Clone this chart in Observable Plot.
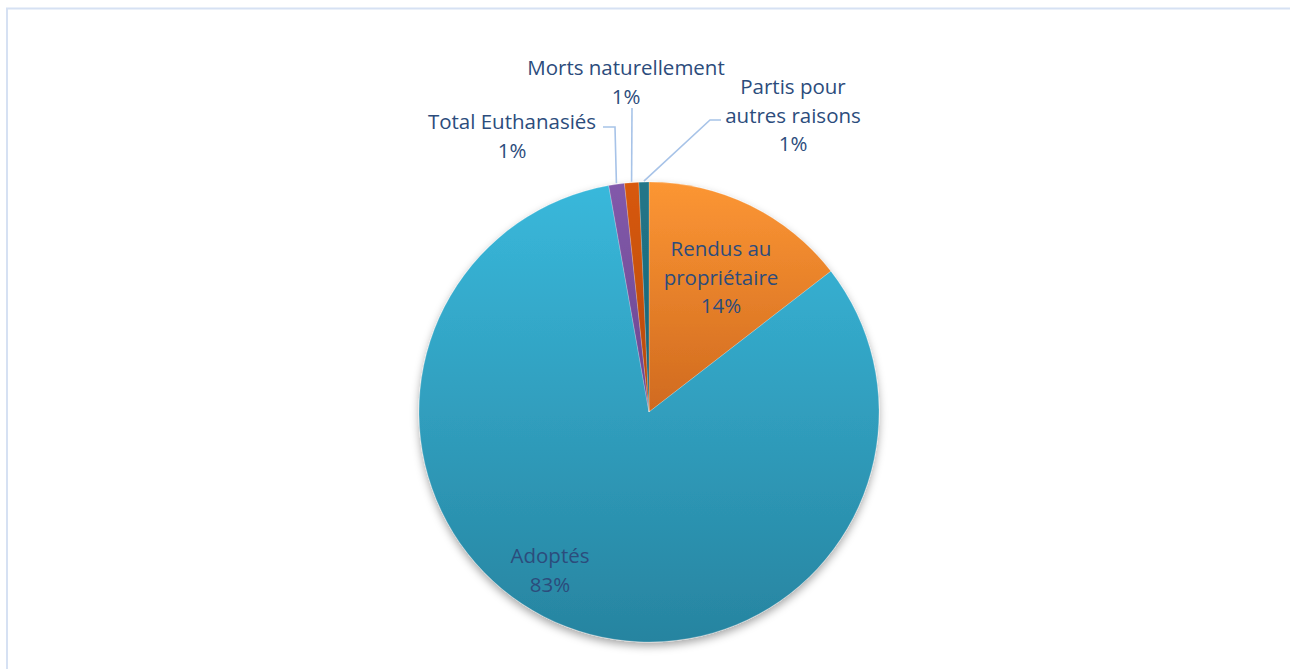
<!DOCTYPE html>
<html><head><meta charset="utf-8">
<script src="https://cdn.jsdelivr.net/npm/d3@7"></script>
<script src="https://cdn.jsdelivr.net/npm/@observablehq/plot@0.6"></script>
<style>body{margin:0;background:#fff;overflow:hidden}</style>
</head><body><div id="chart"></div>
<script>
// ---- data ----
const categories = ["Rendus au propriétaire", "Adoptés", "Total Euthanasiés", "Morts naturellement", "Partis pour autres raisons"];
const values = [14.5, 82.6, 1.1, 1.0, 0.7];
const percentLabels = ["14%", "83%", "1%", "1%", "1%"];
const labelLines = [["Rendus au", "propriétaire"], ["Adoptés"], ["Total Euthanasiés"], ["Morts naturellement"], ["Partis pour", "autres raisons"]];

// ---- styles / layout ----
const gradTop = ["#fc9634", "#39b8db", "#8259aa", "#d8590a", "#217689"];
const gradBottom = ["#d06a1f", "#2784a0", "#6b4690", "#b44808", "#1b6273"];
const textColor = "#2c4c7c";
const leaderColor = "#a7c3e8";
const labelAnchor = [[721, 249], [550, 556], [512, 122], [626, 68], [793, 87]];
const lineHeight = 28.5;
const leaderKnees = [null, null, [[603, 127], [615, 127]], [[632, 108]], [[721, 120], [710, 120]]];

const data = categories.map((c, i) => ({category: c, value: values[i], i}));

function pieMark(index, scales, vals, dims) {
  const cx = 649, cy = 412, r = 230;
  const g = d3.create("svg:g");
  const defs = g.append("defs");
  data.forEach(d => {
    const lg = defs.append("linearGradient").attr("id", "grad" + d.i)
      .attr("x1", 0).attr("y1", 0).attr("x2", 0).attr("y2", 1);
    lg.append("stop").attr("offset", 0).attr("stop-color", gradTop[d.i]);
    lg.append("stop").attr("offset", 1).attr("stop-color", gradBottom[d.i]);
  });
  const f = defs.append("filter").attr("id", "shadow")
    .attr("x", "-10%").attr("y", "-10%").attr("width", "120%").attr("height", "125%");
  f.append("feDropShadow").attr("dx", 0).attr("dy", 4).attr("stdDeviation", 4)
    .attr("flood-color", "#000").attr("flood-opacity", 0.35);

  // frame border
  g.append("rect").attr("x", 7).attr("y", 8.5).attr("width", dims.width + 20).attr("height", dims.height + 20)
    .attr("fill", "none").attr("stroke", "#d6e1f3").attr("stroke-width", 2);

  const arcs = d3.pie().sort(null).value(d => d.value)(data);
  const arc = d3.arc().innerRadius(0).outerRadius(r);
  const slices = g.append("g").attr("transform", `translate(${cx},${cy})`).attr("filter", "url(#shadow)");
  slices.selectAll("path").data(arcs).join("path")
    .attr("d", arc)
    .attr("fill", a => `url(#grad${a.data.i})`)
    .attr("stroke", "rgba(255,255,255,0.35)").attr("stroke-width", 0.6);

  // leader lines
  arcs.forEach(a => {
    const knees = leaderKnees[a.data.i];
    if (!knees) return;
    const mid = (a.startAngle + a.endAngle) / 2;
    const end = [cx + (r + 1) * Math.sin(mid), cy - (r + 1) * Math.cos(mid)];
    const pts = [...knees, end];
    g.append("path").attr("d", d3.line()(pts))
      .attr("fill", "none").attr("stroke", leaderColor).attr("stroke-width", 1.6);
  });

  // labels
  arcs.forEach(a => {
    const i = a.data.i;
    const [lx, ly] = labelAnchor[i];
    const lines = [...labelLines[i], percentLabels[i]];
    const t = g.append("text").attr("text-anchor", "middle")
      .attr("font-family", "'Open Sans', Lato, sans-serif").attr("font-size", 20.5)
      .attr("fill", textColor);
    lines.forEach((s, k) => {
      t.append("tspan").attr("x", lx).attr("y", ly + k * lineHeight).attr("dy", "0.35em").text(s);
    });
  });
  return g.node();
}

const chart = Plot.plot({
  width: 1290,
  height: 669,
  margin: 0,
  style: {background: "#fff", overflow: "visible"},
  marks: [pieMark]
});
document.getElementById("chart").append(chart);
</script>
</body></html>
